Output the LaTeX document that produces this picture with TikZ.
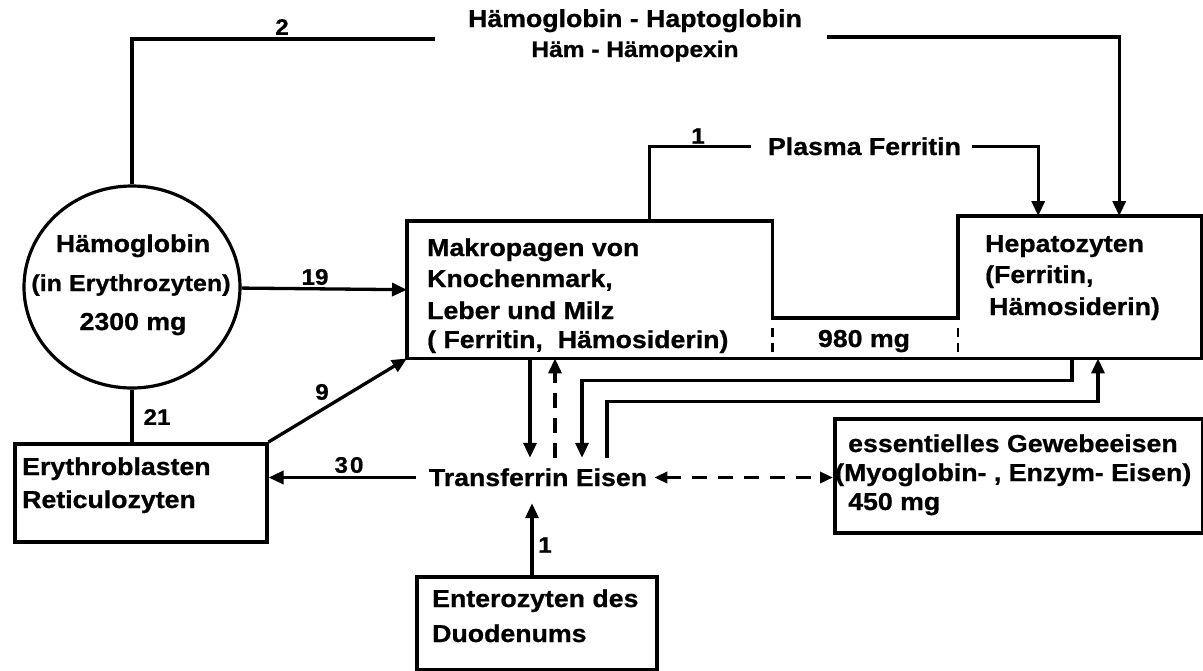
\documentclass[tikz,border=0pt]{standalone}
\usepackage{fontspec}
\setmainfont{Liberation Sans}
\newfontfamily\df{Liberation Sans}[FakeStretch=1.09, FakeBold=0.8]
\newfontfamily\dn{Liberation Sans}[FakeStretch=1.08, FakeBold=0.6]
\usetikzlibrary{arrows.meta,shapes.geometric}
\tikzset{
  lbl/.style={font=\df\bfseries\fontsize{24.5}{29}\selectfont, inner sep=0pt, text height=17pt, text depth=0pt},
  lblsm/.style={lbl, font=\df\bfseries\fontsize{22.5}{27}\selectfont},
  lblc/.style={lbl, font=\df\bfseries\fontsize{23}{27}\selectfont},
  num/.style={font=\dn\bfseries\fontsize{22.5}{26}\selectfont, inner sep=0pt},
  boxr/.style={draw, line width=3.5pt, rectangle, inner sep=0pt, anchor=north west},
  ghost/.style={rectangle, inner sep=0pt, anchor=north west},
  boxline/.style={line width=3.5pt, line join=miter},
  conn/.style={line width=3.3pt},
  arr/.style={conn, -{Triangle[length=15pt,width=13pt]}},
  dasharr/.style={arr, dash pattern=on 15pt off 10pt},
  darr/.style={conn, dash pattern=on 15pt off 11pt, {Triangle[length=13pt,width=11pt]}-{Triangle[length=13pt,width=11pt]}},
  tick/.style={line width=2.6pt, dash pattern=on 9pt off 6pt},
}
\begin{document}
\begin{tikzpicture}[x=1pt,y=-1pt]
\fill[white] (0,0) rectangle (1203,670);
\path[use as bounding box] (0,0) rectangle (1203,670);

% ---- boxes ----
\node[ellipse, draw, line width=3.2pt, minimum width=216pt, minimum height=202pt, inner sep=0pt] (hb) at (132,287) {};
\node[ghost, minimum width=365pt, minimum height=137pt] (makro) at (407,221) {};
\node[ghost, minimum width=243pt, minimum height=142pt] (hep) at (958,216) {};
\draw[boxline] (makro.north west) -- (makro.north east) -- ++(0,97) coordinate (chl)
  -| (hep.north west) -- (hep.north east) -- (hep.south east) -- (makro.south west) -- cycle;
\node[boxr, minimum width=252pt, minimum height=98pt] (eb) at (13,442) {};
\node[boxr, minimum width=368pt, minimum height=114pt] (es) at (833,417) {};
\node[boxr, minimum width=240pt, minimum height=93pt] (en) at (415,575) {};

% ---- texts ----
\node[lbl, anchor=base] (t1) at (635,27) {Hämoglobin - Haptoglobin};
\node[lblsm, anchor=base] (t2) at (635,57) {Häm - Hämopexin};
\node[lbl, anchor=base] (pf) at (864.5,155) {Plasma Ferritin};

\node[lbl, anchor=base] (h1) at (133,252) {Hämoglobin};
\node[lblc, anchor=base] (h2) at (131,291) {(in Erythrozyten)};
\node[lbl, anchor=base] (h3) at (133,330) {2300 mg};

\node[lbl, anchor=base west] (m1) at (427,256) {Makropagen von};
\node[lbl, anchor=base west] (m2) at (427,287) {Knochenmark,};
\node[lbl, anchor=base west] (m3) at (427,319) {Leber und Milz};
\node[lbl, anchor=base west] (m4) at (427,348) {( Ferritin,\ \ Hämosiderin)};

\node[lbl, anchor=base west] (p1) at (985,252) {Hepatozyten};
\node[lbl, anchor=base west] (p2) at (985,283) {(Ferritin,};
\node[lbl, anchor=base west] (p3) at (989,315) {Hämosiderin)};

\node[lbl, anchor=base] (mg980) at (864,347) {980 mg};

\node[lbl, anchor=base west] (e1) at (22,475) {Erythroblasten};
\node[lbl, anchor=base west] (e2) at (22,508) {Reticulozyten};

\node[lbl, anchor=base] (tf) at (538,486) {Transferrin Eisen};

\node[lbl, anchor=base west] (s1) at (848,452) {essentielles Gewebeeisen};
\node[lbl, anchor=base west] (s2) at (835,481) {(Myoglobin- , Enzym- Eisen)};
\node[lbl, anchor=base west] (s3) at (848,510) {450 mg};

\node[lbl, anchor=base west] (d1) at (432,607) {Enterozyten des};
\node[lbl, anchor=base west] (d2) at (432,642) {Duodenums};

% ---- numbers ----
\node[num] (n2) at (282,27) {2};
\node[num] (n1a) at (698,136) {1};
\node[num] (n19) at (315,277) {19};
\node[num] (n21) at (157,417) {21};
\node[num] (n9) at (322,392) {9};
\node[num] (n30) at (349,465) {3\kern2pt0};
\node[num] (n1b) at (545,545) {1};

% ---- helper coordinates ----
\coordinate (t1l) at (435,39);
\coordinate (t1r) at (827,37);
\coordinate (xa) at (530,0);
\coordinate (xb) at (555,0);
\coordinate (xc) at (582,0);
\coordinate (xd) at (607,0);
\coordinate (xe) at (1072,0);
\coordinate (xf) at (1098,0);
\coordinate (xg) at (532,0);
\coordinate (tfin) at ([yshift=11pt]tf.north);
\coordinate (tfout) at ([yshift=-17pt]tf.south);

% ---- connectors ----
\draw[conn] (hb.north) |- (t1l);
\draw[arr] (t1r) -| ([xshift=39.5pt]hep.north);
\draw[conn] ([xshift=59.5pt]makro.north) |- ([xshift=-17pt]pf.west);
\draw[arr] ([xshift=11pt]pf.east) -| ([xshift=-41.5pt]hep.north);

\draw[tick] ([yshift=6pt]makro.south east) -- ++(0,-24);
\draw[tick] ([yshift=6pt]hep.south west) -- ++(0,-24);

\draw[arr] (hb) -- (makro.west);
\draw[conn] (hb.south) -- (hb.south |- eb.north);
\draw[arr] (eb.north east) -- (makro.south west);
\draw[arr] ([xshift=-13pt]tf.west) -- (tf.west -| eb.east);

\draw[arr] (makro.south -| xa) -- (tfin -| xa);
\draw[dasharr] (tfin -| xb) -- (makro.south -| xb);
\draw[arr] (hep.south -| xe) -- ++(0,22) -| (tfin -| xc);
\draw[arr] (tfin -| xd) -- ++(0,-56) -| (hep.south -| xf);

\draw[darr] ([xshift=7pt]tf.east) -- (tf.east -| es.west);
\draw[arr] (en.north -| xg) -- (tfout -| xg);
\end{tikzpicture}
\end{document}
